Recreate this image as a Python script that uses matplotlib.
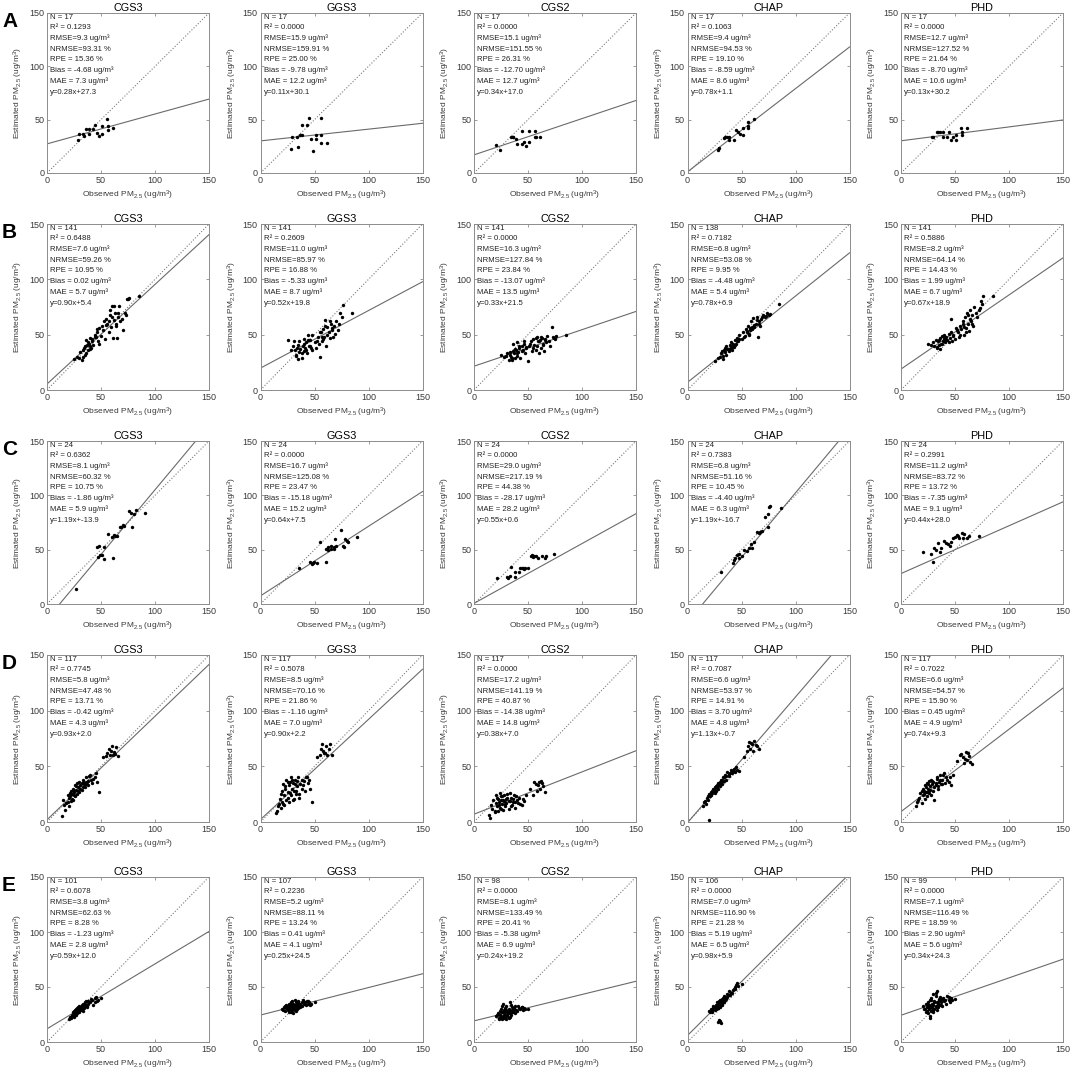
import matplotlib.pyplot as plt
import numpy as np

plt.rcParams['font.family'] = ['Liberation Sans', 'DejaVu Sans']
plt.rcParams['mathtext.default'] = 'regular'

models = ['CGS3', 'GGS3', 'CGS2', 'CHAP', 'PHD']
row_labels = ['A', 'B', 'C', 'D', 'E']

# ---- row A (N = 17) ----
obs_a = [28.5, 29.4, 33.4, 34.6, 36.5, 38.7, 38.7, 42.7, 44.8, 46.4, 48.6, 51.0, 51.0, 55.7, 56.3, 56.3, 61.2]
obs_a_cgs2 = [20.1, 24.1, 34.3, 36.5, 36.5, 38.7, 39.6, 44.2, 44.2, 46.4, 48.3, 51.3, 51.3, 56.6, 56.6, 57.2, 61.2]
cgs3_a = [31, 36.4, 36.4, 34.9, 41, 41, 36.4, 41, 45, 37.3, 34.9, 36.4, 44, 50.7, 44, 40.5, 42.6]
ggs3_a = [22.4, 34.2, 34.2, 24, 35.8, 35.8, 45, 45, 51.3, 31.7, 20.2, 35.8, 31.7, 51.3, 35.8, 28, 28]
cgs2_a = [26.1, 21.8, 34.2, 34.2, 34.2, 31.7, 27.1, 39.8, 27.1, 28.6, 24.9, 39.8, 28.6, 39.8, 34.2, 34.2, 34.2]
chap_a = [21.8, 23, 32.7, 34.2, 34.2, 34.2, 30.5, 30.5, 40.5, 38.3, 36.7, 35.8, 42.6, 48.2, 42.6, 44.2, 50.4]
phd_a = [34.2, 34.2, 38, 38, 38, 33.3, 38, 33.3, 38, 31.1, 34.2, 30.5, 35.8, 42.6, 38, 35.8, 42.6]

# ---- row B (N = 141, subset) ----
obs_b = [25, 30, 31, 32, 33, 34, 35, 36, 36, 37, 38, 39, 40, 40, 41, 42, 43, 44, 45, 46, 47, 48, 50,
         51, 53, 54, 55, 56, 57, 58, 59, 60, 61, 62, 63, 64, 65, 66, 67, 68, 70, 72, 74, 76, 85,
         28, 33, 35, 38, 40, 42, 44, 46, 48, 52, 55, 57, 58, 60, 62, 64, 66, 69, 73, 75]
cgs3_b = [28, 29, 34, 27, 30, 38, 40, 33, 45, 41, 36, 42, 40, 47, 38, 44, 41, 50, 48, 52, 44, 56, 49,
          58, 62, 46, 64, 60, 52, 68, 57, 76, 47, 63, 70, 58, 47, 66, 76, 62, 54, 70, 82, 83, 85,
          30, 36, 32, 43, 37, 46, 48, 55, 42, 54, 59, 62, 72, 66, 76, 60, 70, 64, 68, 82]
ggs3_b = [45, 40, 44, 36, 31, 38, 28, 34, 44, 37, 29, 40, 35, 46, 38, 43, 33, 50, 40, 45, 38, 36, 43,
          38, 48, 42, 30, 52, 44, 55, 48, 63, 40, 57, 52, 47, 60, 54, 48, 58, 62, 54, 70, 77, 70,
          36, 32, 41, 33, 42, 36, 45, 40, 50, 44, 52, 48, 46, 58, 50, 62, 56, 51, 60, 66]
cgs2_b = [32, 31, 33, 27, 32, 30, 27, 35, 42, 33, 29, 36, 31, 43, 34, 38, 29, 40, 36, 42, 33, 38, 26,
          40, 44, 35, 46, 41, 36, 48, 44, 33, 45, 38, 47, 42, 35, 45, 43, 49, 40, 57, 47, 49, 50,
          30, 34, 29, 37, 33, 40, 35, 44, 39, 42, 38, 47, 40, 44, 48, 41, 46, 44, 48, 46]
chap_b = [26, 30, 33, 35, 28, 36, 38, 32, 40, 37, 35, 41, 38, 43, 36, 42, 39, 45, 42, 47, 44, 50, 46,
          52, 49, 55, 52, 58, 50, 56, 62, 55, 65, 57, 60, 66, 48, 62, 58, 64, 68, 66, 70, 69, 78,
          29, 31, 34, 37, 40, 39, 41, 44, 46, 48, 53, 51, 54, 57, 59, 63, 60, 66, 67, 68]
phd_b = [42, 43, 40, 45, 38, 44, 41, 47, 37, 42, 49, 44, 46, 50, 43, 48, 45, 51, 47, 64, 44, 50, 46,
         56, 52, 48, 58, 55, 62, 50, 66, 56, 70, 60, 53, 72, 62, 68, 58, 75, 66, 72, 80, 85, 85,
         41, 39, 45, 42, 48, 45, 43, 52, 49, 54, 50, 60, 57, 52, 68, 64, 60, 70, 74, 78]

# ---- row C (N = 24) ----
obs_c_cgs3 = [27.2, 46.4, 47, 47.9, 49.5, 51, 52.6, 53.2, 56.3, 60.3, 61.2, 61.9, 63.4, 65, 67.4, 68.7,
              70.5, 71.1, 75.8, 78, 78.3, 81, 82, 90.3]
cgs3_c = [14, 52.6, 43.5, 53.3, 45, 45, 52.6, 41, 64.3, 61.8, 42, 63.4, 62.4, 62.4, 70.4, 71,
          72.5, 71.6, 85.7, 83.9, 71, 82.6, 86.3, 83.9]
obs_c_ggs3 = [35.3, 45.9, 47.3, 48.3, 49.3, 52.2, 55, 60.4, 60.4, 62.8, 62.8, 65.2, 65.2, 67.6, 67.6, 69,
              70, 74.9, 76.3, 77.3, 78.3, 79.7, 81, 89.4]
ggs3_c = [33.4, 39, 36.5, 37.4, 39, 38, 57, 39, 51, 52, 50, 51, 53.4, 50.6, 52.8, 60,
          53, 68, 53, 52, 60, 58, 57, 62]
obs_c_cgs2 = [21, 30.6, 31.6, 33, 34.4, 37.8, 37.8, 41.6, 43, 44, 45, 46.4, 47.4, 49.8, 52.6, 53.6,
              55, 56, 57.4, 59.3, 63, 65.5, 67, 73.7]
cgs2_c = [24.2, 25.2, 24.2, 26, 34.4, 29, 25.2, 29.8, 32.8, 32.8, 33.4, 32.2, 33.4, 33.4, 44.5, 45,
          43.6, 44.5, 44.5, 42.6, 44.5, 42, 44.5, 45.7]
obs_c_chap = [31, 42, 43, 44, 45.5, 47.8, 47.8, 50.2, 52.6, 55, 56.5, 58.4, 59.8, 61.2, 64.6, 66,
              67, 69.4, 71.8, 74.2, 74.2, 75.6, 76.6, 87]
chap_c = [29.8, 37.4, 40.5, 42.6, 45, 42.6, 45.7, 44.5, 49.7, 48.8, 51.8, 54.9, 51.8, 56.7, 66.6, 65,
          66, 67.2, 80.4, 82.5, 71, 89.6, 90.2, 88]
obs_c_phd = [20.5, 27.6, 30, 31, 32.4, 33.8, 35.7, 37.1, 39.5, 41.9, 43.3, 45.2, 46.7, 48.1, 50, 51.4,
             52.9, 53.8, 56.2, 57.6, 58.6, 61, 63.3, 71.9]
phd_c = [47.5, 45.7, 38.3, 51.8, 49.7, 55.8, 47.5, 51.2, 58, 55.8, 54.9, 53.7, 56.7, 60.4, 62, 63.5,
         62.6, 60.4, 65, 61, 64.1, 60.4, 62.9, 62.9]

# ---- row D (N = 117, subset) ----
obs_d = [14, 15, 17, 18, 19, 20, 20, 21, 22, 22, 23, 24, 24, 25, 26, 26, 27, 28, 28, 29, 30, 30, 31,
         32, 33, 34, 35, 36, 37, 38, 40, 41, 42, 44, 46, 48, 52, 55, 57, 58, 60, 61, 62, 64, 66,
         16, 19, 21, 23, 25, 25, 27, 29, 31, 32, 33, 34, 36, 38, 39, 43, 45, 56, 59, 63]
cgs3_d = [5, 20, 11, 17, 24, 22, 14, 26, 19, 28, 25, 20, 30, 27, 23, 33, 29, 25, 35, 31, 27, 36, 33,
          29, 38, 34, 31, 40, 36, 33, 42, 38, 35, 40, 36, 27, 58, 59, 66, 60, 68, 60, 63, 67, 59,
          15, 18, 23, 21, 28, 24, 32, 28, 30, 35, 31, 36, 34, 37, 41, 39, 44, 62, 64, 61]
ggs3_d = [8, 10, 16, 21, 13, 28, 18, 34, 24, 15, 30, 38, 20, 27, 33, 18, 36, 24, 40, 30, 35, 20, 28,
          38, 25, 32, 40, 22, 34, 30, 37, 28, 40, 35, 30, 18, 58, 60, 70, 64, 62, 68, 60, 70, 60,
          14, 25, 16, 32, 22, 36, 26, 38, 21, 34, 28, 37, 25, 38, 33, 40, 38, 66, 62, 66]
cgs2_d = [6, 4, 12, 20, 9, 17, 24, 14, 21, 10, 18, 26, 13, 20, 16, 23, 11, 19, 24, 14, 21, 17, 25,
          12, 19, 22, 15, 18, 24, 13, 20, 17, 22, 15, 19, 24, 30, 24, 34, 28, 36, 30, 37, 32, 27,
          15, 10, 22, 15, 23, 12, 20, 16, 22, 19, 26, 14, 21, 18, 23, 16, 21, 36, 33, 35]
chap_d = [14, 18, 16, 22, 20, 25, 2, 23, 27, 24, 26, 30, 27, 29, 32, 28, 31, 35, 30, 33, 36, 32, 38,
          34, 40, 37, 42, 38, 45, 41, 47, 44, 46, 45, 47, 46, 58, 64, 72, 66, 70, 64, 73, 68, 66,
          19, 23, 25, 28, 26, 31, 33, 34, 36, 38, 37, 40, 41, 43, 44, 48, 49, 68, 71, 69]
phd_d = [14, 18, 22, 26, 17, 24, 30, 28, 21, 33, 27, 23, 35, 30, 26, 37, 32, 24, 38, 34, 28, 36, 20,
         33, 39, 30, 36, 42, 34, 38, 44, 35, 40, 36, 33, 42, 55, 60, 58, 53, 63, 56, 62, 54, 52,
         20, 28, 25, 31, 27, 34, 29, 37, 31, 35, 40, 32, 38, 34, 42, 38, 40, 61, 57, 59]

# ---- row E (N ~ 100, subset) ----
obs_e = [20, 22, 23, 24, 24, 25, 25, 26, 26, 27, 27, 28, 28, 28, 29, 29, 30, 30, 30, 31,
         31, 32, 32, 33, 33, 34, 34, 35, 35, 36, 37, 38, 38, 40, 42, 43, 44, 45, 46, 50,
         21, 23, 25, 26, 27, 28, 29, 30, 31, 32, 32, 33, 34, 35, 36, 37, 39, 41, 44, 47]
cgs3_e = [21, 22, 25, 24, 27, 26, 28, 25, 29, 27, 30, 26, 29, 31, 28, 32, 27, 30, 33, 29,
          31, 30, 34, 28, 32, 31, 35, 33, 36, 34, 32, 37, 35, 36, 38, 34, 40, 41, 37, 40,
          23, 24, 23, 28, 25, 30, 27, 31, 29, 33, 30, 35, 32, 34, 37, 33, 36, 39, 36, 38]
ggs3_e = [30, 32, 28, 34, 31, 33, 29, 35, 32, 30, 34, 27, 31, 36, 33, 29, 32, 35, 26, 33,
          30, 34, 31, 36, 28, 33, 35, 31, 37, 34, 32, 36, 33, 35, 34, 37, 35, 36, 34, 36,
          29, 33, 30, 27, 35, 31, 37, 30, 33, 29, 38, 34, 30, 36, 33, 35, 38, 36, 37, 35]
cgs2_e = [24, 26, 22, 28, 25, 23, 30, 21, 27, 35, 24, 29, 22, 26, 31, 25, 28, 21, 33, 27,
          24, 30, 26, 36, 23, 28, 25, 32, 27, 29, 30, 26, 33, 28, 31, 30, 32, 29, 31, 30,
          25, 21, 27, 33, 23, 27, 24, 29, 25, 22, 28, 26, 34, 29, 27, 31, 29, 33, 32, 30]
chap_e = [28, 30, 27, 31, 33, 29, 32, 34, 30, 36, 33, 18, 35, 31, 20, 37, 34, 32, 38, 17,
          36, 39, 35, 37, 40, 36, 42, 38, 41, 40, 44, 43, 46, 45, 47, 48, 50, 52, 54, 53,
          27, 29, 32, 30, 34, 31, 35, 19, 37, 34, 36, 38, 37, 40, 39, 41, 43, 45, 48, 51]
phd_e = [33, 30, 35, 28, 32, 36, 26, 34, 30, 38, 22, 33, 40, 28, 35, 31, 44, 27, 34, 37,
         30, 45, 33, 36, 29, 35, 32, 38, 34, 41, 36, 33, 39, 37, 35, 42, 38, 36, 40, 39,
         30, 27, 34, 31, 24, 38, 33, 29, 36, 42, 32, 46, 35, 39, 37, 34, 40, 38, 41, 38]

x_data = [[obs_a, obs_a, obs_a_cgs2, obs_a, obs_a],
          [obs_b] * 5,
          [obs_c_cgs3, obs_c_ggs3, obs_c_cgs2, obs_c_chap, obs_c_phd],
          [obs_d] * 5,
          [obs_e] * 5]
y_data = [[cgs3_a, ggs3_a, cgs2_a, chap_a, phd_a],
          [cgs3_b, ggs3_b, cgs2_b, chap_b, phd_b],
          [cgs3_c, ggs3_c, cgs2_c, chap_c, phd_c],
          [cgs3_d, ggs3_d, cgs2_d, chap_d, phd_d],
          [cgs3_e, ggs3_e, cgs2_e, chap_e, phd_e]]

# statistics printed in each panel (rows A-E, columns CGS3..PHD)
n_vals = [[17, 17, 17, 17, 17], [141, 141, 141, 138, 141], [24, 24, 24, 24, 24],
          [117, 117, 117, 117, 117], [101, 107, 98, 106, 99]]
r2_vals = [[0.1293, 0.0, 0.0, 0.1063, 0.0], [0.6488, 0.2609, 0.0, 0.7182, 0.5886],
           [0.6362, 0.0, 0.0, 0.7383, 0.2991], [0.7745, 0.5078, 0.0, 0.7087, 0.7022],
           [0.6078, 0.2236, 0.0, 0.0, 0.0]]
rmse_vals = [[9.3, 15.9, 15.1, 9.4, 12.7], [7.6, 11.0, 16.3, 6.8, 8.2], [8.1, 16.7, 29.0, 6.8, 11.2],
             [5.8, 8.5, 17.2, 6.6, 6.6], [3.8, 5.2, 8.1, 7.0, 7.1]]
nrmse_vals = [[93.31, 159.91, 151.55, 94.53, 127.52], [59.26, 85.97, 127.84, 53.08, 64.14],
              [60.32, 125.08, 217.19, 51.16, 83.72], [47.48, 70.16, 141.19, 53.97, 54.57],
              [62.63, 88.11, 133.49, 116.90, 116.49]]
rpe_vals = [[15.36, 25.00, 26.31, 19.10, 21.64], [10.95, 16.88, 23.84, 9.95, 14.43],
            [10.75, 23.47, 44.38, 10.45, 13.72], [13.71, 21.86, 40.87, 14.91, 15.90],
            [8.28, 13.24, 20.41, 21.28, 18.59]]
bias_vals = [[-4.68, -9.78, -12.70, -8.59, -8.70], [0.02, -5.33, -13.07, -4.48, 1.99],
             [-1.86, -15.18, -28.17, -4.40, -7.35], [-0.42, -1.16, -14.38, 3.70, 0.45],
             [-1.23, 0.41, -5.38, 5.19, 2.90]]
mae_vals = [[7.3, 12.2, 12.7, 8.6, 10.6], [5.7, 8.7, 13.5, 5.4, 6.7], [5.9, 15.2, 28.2, 6.3, 9.1],
            [4.3, 7.0, 14.8, 4.8, 4.9], [2.8, 4.1, 6.9, 6.5, 5.6]]
slopes = [[0.28, 0.11, 0.34, 0.78, 0.13], [0.90, 0.52, 0.33, 0.78, 0.67], [1.19, 0.64, 0.55, 1.19, 0.44],
          [0.93, 0.90, 0.38, 1.13, 0.74], [0.59, 0.25, 0.24, 0.98, 0.34]]
intercepts = [[27.3, 30.1, 17.0, 1.1, 30.2], [5.4, 19.8, 21.5, 6.9, 18.9], [-13.9, 7.5, 0.6, -16.7, 28.0],
              [2.0, 2.2, 7.0, -0.7, 9.3], [12.0, 24.5, 19.2, 5.9, 24.3]]

W, H = 1072, 1076
fig = plt.figure(figsize=(W / 100, H / 100), dpi=100)

col_left = [47, 260.5, 474, 687.5, 901]
row_top = [13, 224, 441, 655, 877]
row_bot = [173, 390, 604, 822, 1042]
ax_w = 162

grey_txt = '#3a3a3a'
line_x = np.array([0, 150])

for r in range(5):
    for c in range(5):
        ax = fig.add_axes([col_left[c] / W, 1 - row_bot[r] / H, ax_w / W, (row_bot[r] - row_top[r]) / H])
        ax.plot(line_x, line_x, ':', color='#7a7a7a', lw=0.8)
        ax.plot(line_x, slopes[r][c] * line_x + intercepts[r][c], '-', color='#6a6a6a', lw=0.8)
        ax.scatter(x_data[r][c], y_data[r][c], s=6, c='black', marker='o', linewidths=0, zorder=3)
        ax.set_xlim(0, 150)
        ax.set_ylim(0, 150)
        ax.set_xticks([0, 50, 100, 150])
        ax.set_yticks([0, 50, 100, 150])
        ax.tick_params(direction='in', length=2.5, width=0.6, labelsize=6.5, colors='#8c8c8c',
                       labelcolor=grey_txt, top=True, right=True, pad=2)
        for sp in ax.spines.values():
            sp.set_color('#8c8c8c')
            sp.set_linewidth(0.7)
        ax.set_title(models[c], fontsize=7.8, pad=1.5)
        ax.set_xlabel('Observed PM$_{2.5}$ (ug/m$^3$)', fontsize=6, color=grey_txt, labelpad=3)
        ax.set_ylabel('Estimated PM$_{2.5}$ (ug/m$^3$)', fontsize=6, color=grey_txt, labelpad=3)

        lines = ['N = %d' % n_vals[r][c],
                 'R² = %.4f' % r2_vals[r][c],
                 'RMSE=%.1f ug/m³' % rmse_vals[r][c],
                 'NRMSE=%.2f %%' % nrmse_vals[r][c],
                 'RPE = %.2f %%' % rpe_vals[r][c],
                 'Bias = %.2f ug/m³' % bias_vals[r][c],
                 'MAE = %.1f ug/m³' % mae_vals[r][c],
                 'y=%.2fx+%.1f' % (slopes[r][c], intercepts[r][c])]
        for i, s in enumerate(lines):
            ax.annotate(s, xy=(0, 1), xycoords='axes fraction', xytext=(2.5, -3.0 - i * 7.7),
                        textcoords='offset points', ha='left', va='center', fontsize=5.6,
                        color='#222222')

    fig.text(2 / W, 1 - (row_top[r] - 1) / H, row_labels[r], fontsize=15, fontweight='bold',
             ha='left', va='top')

fig.savefig('out.png', dpi=100)
